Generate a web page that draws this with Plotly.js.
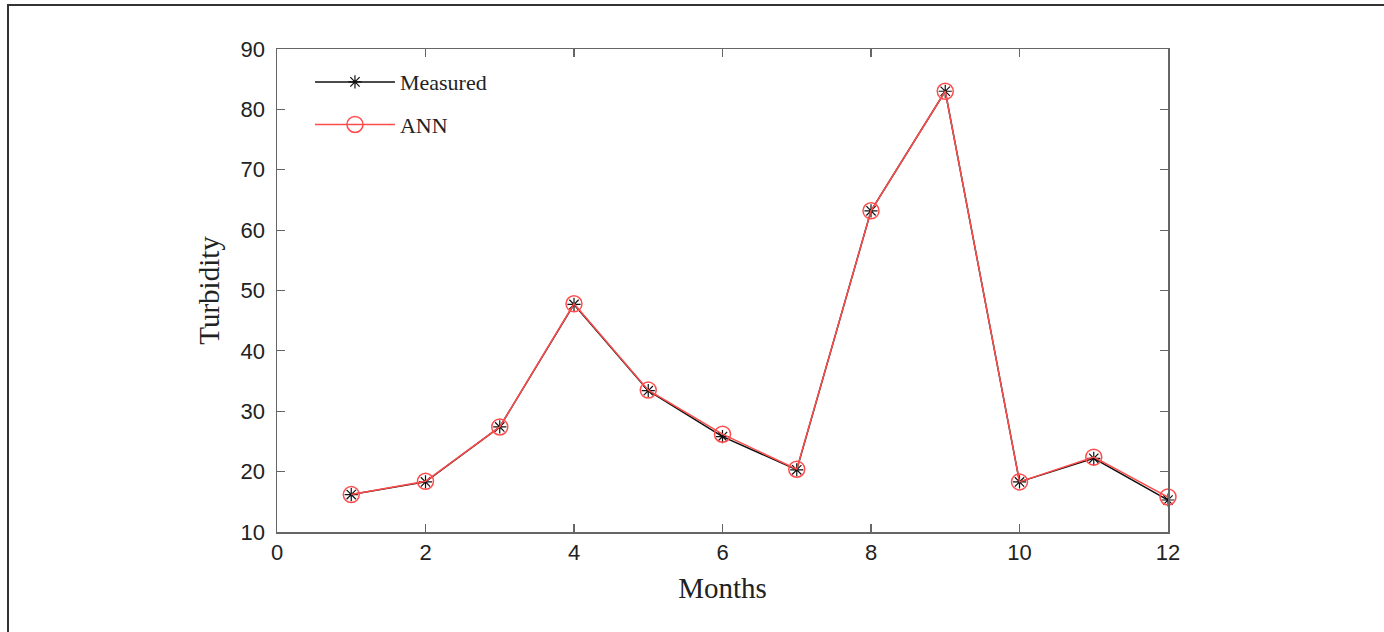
<!DOCTYPE html>
<html>
<head>
<meta charset="utf-8">
<script src="https://cdn.plot.ly/plotly-3.0.1.min.js"></script>
<style>
  html, body { margin: 0; padding: 0; background: #fff; }
  #wrap { position: relative; width: 1384px; height: 632px; overflow: hidden; }
  #chart { position: absolute; left: 0; top: 0; width: 1384px; height: 632px; }
  #frame { position: absolute; left: 7px; top: 4px; width: 1400px; height: 700px;
           border-top: 2px solid #333; border-left: 2px solid #333; pointer-events: none; }
</style>
</head>
<body>
<div id="wrap">
  <div id="chart"></div>
  <div id="frame"></div>
</div>
<script>
const months   = [1, 2, 3, 4, 5, 6, 7, 8, 9, 10, 11, 12];
const measured = [16.2, 18.3, 27.4, 47.7, 33.4, 25.8, 20.3, 63.2, 83.0, 18.3, 22.2, 15.3];
const ann      = [16.2, 18.4, 27.4, 47.8, 33.5, 26.2, 20.4, 63.2, 83.0, 18.3, 22.4, 15.8];
const xTicks   = [0, 2, 4, 6, 8, 10, 12];
const yTicks   = [10, 20, 30, 40, 50, 60, 70, 80, 90];

const traces = [
  {
    x: months, y: measured, name: 'Measured', type: 'scatter', mode: 'lines+markers',
    legendgroup: 'm', cliponaxis: false,
    line: { color: '#111', width: 1.5 },
    marker: { symbol: 'asterisk-open', size: 11, color: '#111', line: { color: '#111', width: 1.2 } }
  },
  {
    x: months, y: ann, name: 'ANN', type: 'scatter', mode: 'lines+markers',
    legendgroup: 'a', cliponaxis: false,
    line: { color: '#ff4d4d', width: 1.5 },
    marker: { symbol: 'circle-open', size: 16, color: '#ff4d4d', line: { color: '#ff4d4d', width: 1.5 } }
  }
];

const axisCommon = {
  showgrid: false, zeroline: false, showline: true, linecolor: '#666', linewidth: 1.5,
  mirror: 'ticks', ticks: 'inside', ticklen: 8, tickcolor: '#666', tickwidth: 1.2,
  tickfont: { family: 'Liberation Sans, Arial, sans-serif', size: 22, color: '#222' }
};

const layout = {
  width: 1384, height: 632,
  margin: { l: 277, r: 216, t: 49, b: 100 },
  paper_bgcolor: '#fff', plot_bgcolor: '#fff',
  showlegend: true,
  legend: {
    x: 0.037, y: 0.975, xanchor: 'left', yanchor: 'top',
    bgcolor: 'rgba(255,255,255,0)', borderwidth: 0,
    font: { family: 'Liberation Serif, Times New Roman, serif', size: 22, color: '#222' },
    itemwidth: 80, tracegroupgap: 11
  },
  xaxis: Object.assign({}, axisCommon, {
    range: [0, 12], tickvals: xTicks, ticktext: xTicks.map(String),
    title: { text: 'Months', standoff: 14,
      font: { family: 'Liberation Serif, Times New Roman, serif', size: 29, color: '#222' } }
  }),
  yaxis: Object.assign({}, axisCommon, {
    range: [10, 90], tickvals: yTicks, ticktext: yTicks.map(String),
    ticklabelstandoff: 6,
    title: { text: 'Turbidity', standoff: 12,
      font: { family: 'Liberation Serif, Times New Roman, serif', size: 29, color: '#222' } }
  })
};

Plotly.newPlot('chart', traces, layout, { displayModeBar: false, staticPlot: true });
</script>
</body>
</html>
